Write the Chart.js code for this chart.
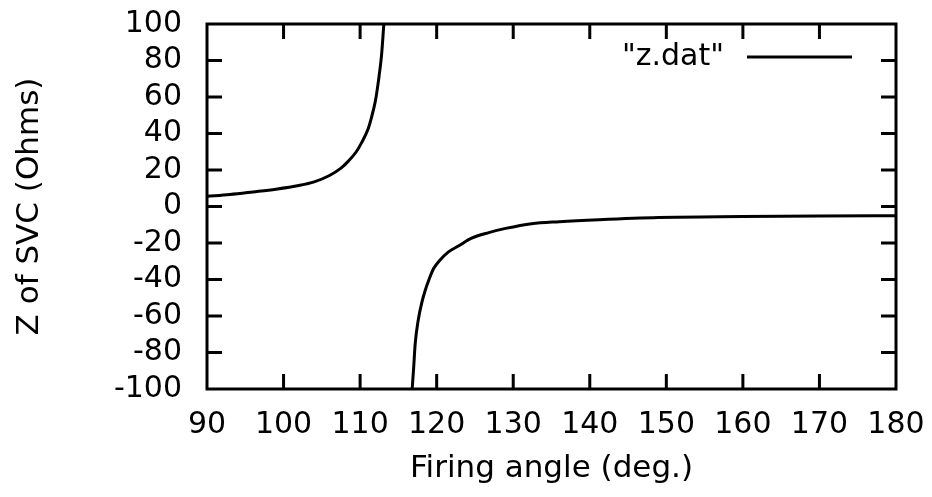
<!DOCTYPE html>
<html>
<head>
<meta charset="utf-8">
<script src="https://cdn.jsdelivr.net/npm/chart.js@4/dist/chart.umd.min.js"></script>
<style>
  html, body { margin: 0; padding: 0; background: #fff; }
  #wrap { width: 932px; height: 497px; }
</style>
</head>
<body>
<div id="wrap"><canvas id="chart"></canvas></div>
<script>
const seriesLabel = '"z.dat"';

// branch below resonance: firing angle (deg.) -> Z (Ohms)
const angleLow = [90, 93, 96, 99, 102, 104, 106, 107.5, 108.5, 109.5, 110.2, 111, 111.5, 112, 112.4, 112.8, 113.1];
const zLow = [5.6, 6.6, 8, 9.5, 11.5, 13.5, 17, 21, 25, 30, 35, 42, 49, 58, 69, 83, 100];

// branch above resonance
const angleHigh = [116.8, 117, 117.2, 117.6, 118.1, 118.5, 119, 119.6, 120.3, 121.5, 122.9, 124.5, 126.8, 129, 132.4, 136, 141.2, 149, 160, 170, 180];
const zHigh = [-100, -88, -75, -62, -52, -46, -40, -34, -30, -25, -21.5, -17.5, -14.3, -12, -9.4, -8.3, -7.2, -6, -5.5, -5.2, -5];

const xTicks = [90, 100, 110, 120, 130, 140, 150, 160, 170, 180];
const yTicks = [-100, -80, -60, -40, -20, 0, 20, 40, 60, 80, 100];

const FAMILY = 'DejaVu Sans';

function toPoints(xs, ys) {
  return xs.map((x, i) => ({ x, y: ys[i] }));
}

// gnuplot style frame: box border with ticks pointing inwards on every side
const framePlugin = {
  id: 'frame',
  afterDatasetsDraw(chart) {
    const { ctx, chartArea: a, scales: { x, y } } = chart;
    const len = 15;
    ctx.save();
    ctx.strokeStyle = '#000';
    ctx.lineWidth = 3;
    ctx.beginPath();
    x.ticks.forEach((t) => {
      const px = x.getPixelForValue(t.value);
      if (px <= a.left + 1 || px >= a.right - 1) {
        return;
      }
      ctx.moveTo(px, a.bottom);
      ctx.lineTo(px, a.bottom - len);
      ctx.moveTo(px, a.top);
      ctx.lineTo(px, a.top + len);
    });
    y.ticks.forEach((t) => {
      const py = y.getPixelForValue(t.value);
      if (py <= a.top + 1 || py >= a.bottom - 1) {
        return;
      }
      ctx.moveTo(a.left, py);
      ctx.lineTo(a.left + len, py);
      ctx.moveTo(a.right, py);
      ctx.lineTo(a.right - len, py);
    });
    ctx.stroke();
    ctx.strokeRect(a.left, a.top, a.right - a.left, a.bottom - a.top);
    ctx.restore();
  },
};

// key in the top right corner: label text followed by a line sample
const keyPlugin = {
  id: 'key',
  afterDraw(chart) {
    const { ctx, chartArea: a } = chart;
    const ds = chart.data.datasets[0];
    const lineEnd = a.right - 44;
    const lineStart = lineEnd - 105;
    const cy = a.top + 33;
    ctx.save();
    ctx.strokeStyle = ds.borderColor;
    ctx.lineWidth = ds.borderWidth;
    ctx.beginPath();
    ctx.moveTo(lineStart, cy);
    ctx.lineTo(lineEnd, cy);
    ctx.stroke();
    ctx.fillStyle = '#000';
    ctx.font = `30px "${FAMILY}"`;
    ctx.textAlign = 'right';
    ctx.textBaseline = 'middle';
    ctx.fillText(ds.label, lineStart - 23, cy);
    ctx.restore();
  },
};

const lineStyle = {
  borderColor: '#000',
  borderWidth: 3,
  pointRadius: 0,
  showLine: true,
  fill: false,
  tension: 0.4,
  cubicInterpolationMode: 'monotone',
};

new Chart(document.getElementById('chart').getContext('2d'), {
  type: 'scatter',
  data: {
    datasets: [
      { label: seriesLabel, data: toPoints(angleLow, zLow), ...lineStyle },
      { label: seriesLabel, data: toPoints(angleHigh, zHigh), ...lineStyle },
    ],
  },
  options: {
    responsive: true,
    maintainAspectRatio: false,
    animation: false,
    layout: { padding: { top: 24, right: 36, left: 0, bottom: 0 } },
    plugins: {
      legend: { display: false },
      tooltip: { enabled: false },
    },
    scales: {
      x: {
        type: 'linear',
        min: 90,
        max: 180,
        afterBuildTicks: (scale) => {
          scale.ticks = xTicks.map((value) => ({ value }));
        },
        afterFit: (scale) => {
          scale.height = 108;
          scale.paddingLeft = 0;
          scale.paddingRight = 0;
        },
        grid: { display: false, drawTicks: false },
        border: { display: false },
        ticks: {
          autoSkip: false,
          padding: 18,
          color: '#000',
          maxRotation: 0,
          font: { family: FAMILY, size: 30 },
        },
        title: {
          display: true,
          text: 'Firing angle (deg.)',
          color: '#000',
          font: { family: FAMILY, size: 31 },
          padding: { top: 0, bottom: 9 },
        },
      },
      y: {
        type: 'linear',
        min: -100,
        max: 100,
        afterBuildTicks: (scale) => {
          scale.ticks = yTicks.map((value) => ({ value }));
        },
        afterFit: (scale) => {
          scale.width = 207;
          scale.paddingTop = 0;
          scale.paddingBottom = 0;
        },
        grid: { display: false, drawTicks: false },
        border: { display: false },
        ticks: {
          autoSkip: false,
          padding: 25,
          color: '#000',
          font: { family: FAMILY, size: 30 },
        },
        title: {
          display: true,
          text: 'Z of SVC (Ohms)',
          color: '#000',
          font: { family: FAMILY, size: 31 },
          padding: { top: 11, bottom: 0 },
        },
      },
    },
  },
  plugins: [framePlugin, keyPlugin],
});
</script>
</body>
</html>
